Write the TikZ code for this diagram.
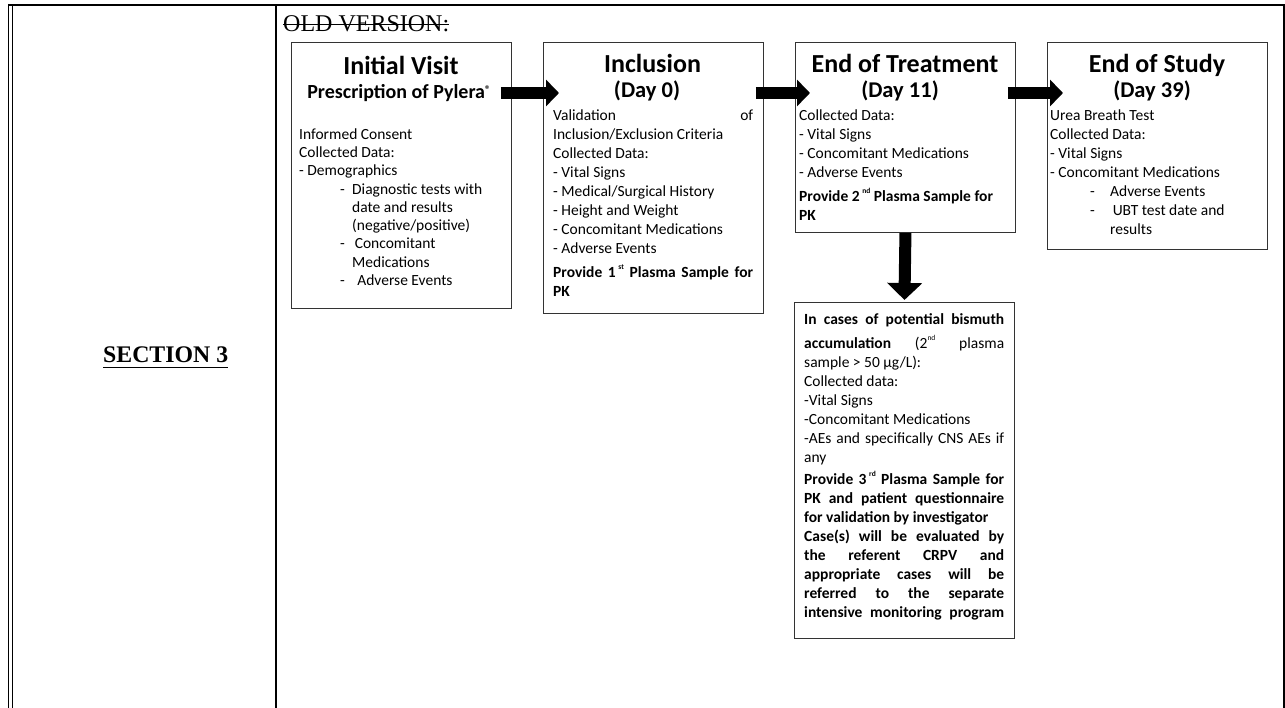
\documentclass[tikz,border=0pt]{standalone}
\usepackage{fontspec}
\setmainfont{Carlito}
\newfontfamily\serifface{Liberation Serif}
\usetikzlibrary{arrows.meta}
% small raised ordinal suffix
\newcommand\sups[1]{\raisebox{7.5pt}{\fontsize{7.5}{7.5}\selectfont #1}}
% line stretched to the full text width
\newcommand\jline[1]{\makebox[200pt][s]{\spaceskip=0.226em plus 30em\relax #1}}
% fixes the first baseline 14pt below the top of a text block
\newcommand\firstline{\rule{0pt}{14pt}}
\begin{document}
\begin{tikzpicture}[x=1pt,y=-1pt,
  box/.style={draw=black!80, line width=0.9pt, fill=white, minimum width=220pt,
    inner sep=0pt, anchor=north west},
  body/.style={anchor=north west, inner sep=0pt, align=left, text width=#1,
    font=\fontsize{15.5}{19}\selectfont,
    execute at begin node={\spaceskip=0.226em\relax}},
  body/.default=200pt,
  ivbody/.style={body, font=\fontsize{15.5}{18.3}\selectfont},
  ttl/.style={inner sep=0pt, anchor=base, font=\bfseries\fontsize{26}{26}\selectfont},
  daylbl/.style={inner sep=0pt, anchor=base, font=\bfseries\fontsize{22.5}{22.5}\selectfont},
  subttl/.style={inner sep=0pt, anchor=base, font=\bfseries\fontsize{20}{20}\selectfont},
  serifbig/.style={inner sep=0pt, anchor=base west},
  tablerule/.style={line width=2pt},
  thinrule/.style={line width=1.3pt},
  bigarrow/.style={line width=12pt, -{Triangle[length=13pt,width=26pt]}},
  downarrow/.style={line width=12pt, -{Triangle[length=17pt,width=34pt]}},
]
\useasboundingbox (0,0) rectangle (1285,708);

% table frame
\draw[tablerule] (8,4.8) -- (1285,4.8);
\draw[thinrule] (8.65,4) -- (8.65,708);
\draw[thinrule] (12.65,5.5) -- (12.65,708);
\draw[tablerule] (276.3,5.5) -- (276.3,708);
\draw[tablerule] (1284,5.5) -- (1284,708);

% left column heading
\node[serifbig, font=\serifface\bfseries\fontsize{23.8}{23.8}\selectfont] (sec) at (103,363) {SECTION 3};
\draw[line width=1.8pt] ([yshift=-4.5pt]sec.base west) -- ([yshift=-4.5pt]sec.base east);

% struck-out heading
\node[serifbig, font=\serifface\fontsize{24}{24}\selectfont] (old) at (283,32) {OLD VERSION:};
\draw[line width=1.4pt] ([yshift=7.5pt]old.base west) -- ([yshift=7.5pt]old.base east);

% visit boxes
\node[box, minimum height=266pt] (iv)  at (291,42) {};
\node[box, minimum height=271pt] (inc) at (543,42) {};
\node[box, minimum height=190pt] (eot) at (795,42) {};
\node[box, minimum height=207pt] (eos) at (1047,42) {};
\node[box, minimum height=336pt] (acc) at (794,302) {};

% Initial Visit
\node[ttl] (ivT) at (401,75) {Initial Visit};
\node[subttl] (ivS) at (399,99) {Prescription of Pylera\raisebox{5pt}{\fontsize{11}{11}\selectfont ®}};
\node[ivbody] (ivB) at (299,125) {\firstline Informed Consent\\
Collected Data:\\
- Demographics\\
\hspace*{41pt}\makebox[12pt][l]{-}Diagnostic tests with\\
\hspace*{53pt}date and results\\
\hspace*{53pt}(negative/positive)\\
\hspace*{41pt}\makebox[12pt][l]{-}\,Concomitant\\
\hspace*{53pt}Medications\\
\hspace*{41pt}\makebox[12pt][l]{-}\,\,Adverse Events};

% Inclusion
\node[ttl] (incT) at (652.5,73) {Inclusion};
\node[daylbl] (incD) at (647,98) {(Day 0)};
\node[body] (incB) at (553,106) {\firstline\jline{Validation of}\\
Inclusion/Exclusion Criteria\\
Collected Data:\\
- Vital Signs\\
- Medical/Surgical History\\
- Height and Weight\\
- Concomitant Medications\\
- Adverse Events\\[5pt]
\textbf{\jline{Provide 1\,\sups{st} Plasma Sample for}}\\
\textbf{PK}};

% End of Treatment
\node[ttl] (eotT) at (905,73) {End of Treatment};
\node[daylbl] (eotD) at (900,98) {(Day 11)};
\node[body=212pt] (eotB) at (799,106) {\firstline Collected Data:\\
- Vital Signs\\
- Concomitant Medications\\
- Adverse Events\\[5pt]
\textbf{Provide 2\,\sups{nd} Plasma Sample for}\\
\textbf{PK}};

% End of Study
\node[ttl] (eosT) at (1157,73) {End of Study};
\node[daylbl] (eosD) at (1152,98) {(Day 39)};
\node[body=212pt] (eosB) at (1050,106) {\firstline Urea Breath Test\\
Collected Data:\\
- Vital Signs\\
- Concomitant Medications\\
\hspace*{40pt}\makebox[20pt][l]{-}Adverse Events\\
\hspace*{40pt}\makebox[20pt][l]{-}\,UBT test date and\\
\hspace*{60pt}results};

% bismuth accumulation follow-up
\node[body] (accB) at (804,310) {\firstline\textbf{\jline{In cases of potential bismuth}}\\[5pt]
\jline{\textbf{accumulation} (2\sups{nd} plasma}\\
sample > 50 µg/L):\\
Collected data:\\
-Vital Signs\\
-Concomitant Medications\\
\jline{-AEs and specifically CNS AEs if}\\
any\\[3pt]
\textbf{\jline{Provide 3\,\sups{rd} Plasma Sample for}}\\
\textbf{\jline{PK and patient questionnaire}}\\
\textbf{for validation by investigator}\\
\textbf{\jline{Case(s) will be evaluated by}}\\
\textbf{\jline{the referent CRPV and}}\\
\textbf{\jline{appropriate cases will be}}\\
\textbf{\jline{referred to the separate}}\\
\textbf{\jline{intensive monitoring program}}};

% flow arrows
\draw[bigarrow] ([xshift=-11pt,yshift=-51pt]iv.north east) -- ([xshift=16pt,yshift=-51pt]inc.north west);
\draw[bigarrow] ([xshift=-8pt,yshift=-51pt]inc.north east) -- ([xshift=15pt,yshift=-51pt]eot.north west);
\draw[bigarrow] ([xshift=-8pt,yshift=-51pt]eot.north east) -- ([xshift=16pt,yshift=-51pt]eos.north west);
\draw[downarrow] (eot.south) -- ([yshift=2pt]acc.north);
\end{tikzpicture}
\end{document}
